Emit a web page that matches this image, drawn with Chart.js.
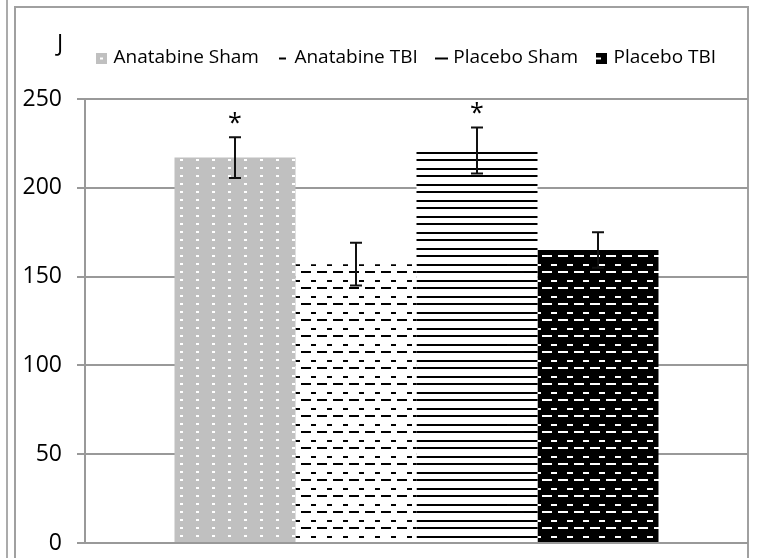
<!DOCTYPE html>
<html lang="en">
<head>
  <meta charset="UTF-8">
  <title>Panel J</title>
  <script src="https://cdn.jsdelivr.net/npm/chart.js"></script>
  <style>
    html, body { margin: 0; padding: 0; background: #fff; }
    #wrap { width: 759px; height: 558px; }
  </style>
</head>
<body>
  <div id="wrap">
    <canvas id="barChart" width="759" height="558"></canvas>
  </div>
  <script>
    // data
    const groups = ['Anatabine Sham', 'Anatabine TBI', 'Placebo Sham', 'Placebo TBI'];
    const means = [217, 157, 221, 165];
    const errors = [11.5, 12, 13, 10];
    const stars = ['*', '', '*', ''];
    const yTicks = [0, 50, 100, 150, 200, 250];

    // draw a rect into a tile, wrapping round the edges
    const wrapRect = (g, size, x, y, w, h) => {
      for (let dx = -size; dx <= size; dx += size) {
        for (let dy = -size; dy <= size; dy += size) {
          g.fillRect(x + dx, y + dy, w, h);
        }
      }
    };

    const makeTile = (size, bg, draw) => {
      const c = document.createElement('canvas');
      c.width = size; c.height = size;
      const g = c.getContext('2d');
      g.fillStyle = bg;
      g.fillRect(0, 0, size, size);
      draw(g);
      return c;
    };

    const ctx = document.getElementById('barChart').getContext('2d');

    // fill patterns, one per group
    const dotted = makeTile(16, '#c0c0c0', g => {
      g.fillStyle = '#fff';
      wrapRect(g, 16, 4, 7, 3, 2);
      wrapRect(g, 16, 4, 15, 3, 2);
    });
    const dashed = makeTile(16, '#fff', g => {
      g.fillStyle = '#000';
      wrapRect(g, 16, 13, 15, 10, 2);
      wrapRect(g, 16, 7, 8, 5, 2);
    });
    const striped = makeTile(16, '#fff', g => {
      g.fillStyle = '#000';
      wrapRect(g, 16, 0, 15, 16, 2);
      wrapRect(g, 16, 0, 8, 16, 2);
    });
    const darkDashed = makeTile(16, '#000', g => {
      g.fillStyle = '#fff';
      wrapRect(g, 16, 14, 15, 10, 2);
      wrapRect(g, 16, 7, 8, 6, 2);
    });
    const fills = [dotted, dashed, striped, darkDashed].map(t => ctx.createPattern(t, 'repeat'));

    // little legend markers
    const marker = (w, h, draw) => {
      const c = document.createElement('canvas');
      c.width = w; c.height = h;
      draw(c.getContext('2d'));
      return c;
    };
    const markers = [
      marker(11, 11, g => { g.fillStyle = '#c0c0c0'; g.fillRect(0, 0, 11, 11); g.fillStyle = '#fff'; g.fillRect(4, 5, 3, 2); }),
      marker(11, 11, g => { g.fillStyle = '#000'; g.fillRect(2, 5, 7, 2); }),
      marker(13, 11, g => { g.fillStyle = '#000'; g.fillRect(0, 5, 13, 2); }),
      marker(11, 11, g => { g.fillStyle = '#000'; g.fillRect(0, 0, 11, 11); g.fillStyle = '#fff'; g.fillRect(0, 5, 5, 2); })
    ];

    const framePlugin = {
      id: 'frame',
      beforeDraw(chart) {
        const c = chart.ctx;
        c.save();
        c.fillStyle = '#fff';
        c.fillRect(0, 0, chart.width, chart.height);
        c.strokeStyle = '#8f8f8f';
        c.lineWidth = 1.5;
        c.beginPath();
        c.moveTo(7, 0); c.lineTo(7, chart.height);
        c.stroke();
        c.strokeStyle = '#a0a0a0';
        c.lineWidth = 2;
        c.beginPath();
        c.moveTo(15, chart.height); c.lineTo(15, 7); c.lineTo(748, 7); c.lineTo(748, chart.height);
        c.stroke();
        c.restore();
      },
      afterDraw(chart) {
        const c = chart.ctx;
        c.save();
        c.fillStyle = '#000';
        c.font = '23px "Open Sans"';
        c.textBaseline = 'alphabetic';
        c.fillText('J', 57, 51);
        c.restore();
      }
    };

    // move the legend to where the figure has it
    const legendPlace = {
      id: 'legendPlace',
      afterLayout(chart) {
        const lg = chart.legend;
        const pad = lg.options.labels.padding;
        const start = (lg.left + pad + lg.right - lg.lineWidths[0]) / 2;
        const dx = 99 - start;
        lg.left += dx; lg.right += dx;
        const dy = 58 - (lg.top + pad + 9.5);
        lg.top += dy; lg.bottom += dy;
      }
    };

    const errorBars = {
      id: 'errorBars',
      afterDatasetsDraw(chart) {
        const c = chart.ctx;
        const y = chart.scales.y;
        c.save();
        c.strokeStyle = '#111';
        c.lineWidth = 2;
        chart.data.datasets.forEach((ds, i) => {
          const bar = chart.getDatasetMeta(i).data[0];
          const top = y.getPixelForValue(means[i] + errors[i]);
          const bot = y.getPixelForValue(means[i] - errors[i]);
          c.beginPath();
          c.moveTo(bar.x, top); c.lineTo(bar.x, bot);
          c.moveTo(bar.x - 6, top); c.lineTo(bar.x + 6, top);
          c.moveTo(bar.x - 6, bot); c.lineTo(bar.x + 6, bot);
          c.stroke();
          if (stars[i]) {
            c.fillStyle = '#000';
            c.font = '25px "Open Sans"';
            c.textAlign = 'center';
            c.textBaseline = 'alphabetic';
            c.fillText(stars[i], bar.x, top - 6);
          }
        });
        c.restore();
      }
    };

    new Chart(ctx, {
      type: 'bar',
      data: {
        labels: [''],
        datasets: groups.map((name, i) => ({
          label: name,
          data: [means[i]],
          backgroundColor: fills[i],
          borderWidth: 0,
          categoryPercentage: 0.73,
          barPercentage: 1
        }))
      },
      options: {
        responsive: false,
        animation: false,
        layout: { padding: { left: 15, right: 11, top: 49, bottom: 15 } },
        plugins: {
          tooltip: { enabled: false },
          legend: {
            position: 'top',
            labels: {
              usePointStyle: true,
              pointStyleWidth: 5,
              boxWidth: 11,
              boxHeight: 11,
              padding: 21,
              color: '#222',
              font: { family: '"Open Sans"', size: 19 },
              generateLabels: chart => chart.data.datasets.map((ds, i) => ({
                text: ds.label,
                pointStyle: markers[i],
                fillStyle: '#000',
                strokeStyle: '#000',
                lineWidth: 0,
                hidden: false,
                datasetIndex: i
              }))
            }
          }
        },
        scales: {
          x: { display: false },
          y: {
            min: 0,
            max: 250,
            afterFit: s => { s.width = 70; s.paddingTop = 0; s.paddingBottom = 0; },
            afterBuildTicks: s => { s.ticks = yTicks.map(v => ({ value: v })); },
            border: { display: true, color: '#999', width: 2 },
            grid: { color: '#999', lineWidth: 2, tickLength: 8 },
            ticks: {
              padding: 15,
              color: '#000',
              font: { family: '"Open Sans"', size: 23 }
            }
          }
        }
      },
      plugins: [framePlugin, legendPlace, errorBars]
    });
  </script>
</body>
</html>
